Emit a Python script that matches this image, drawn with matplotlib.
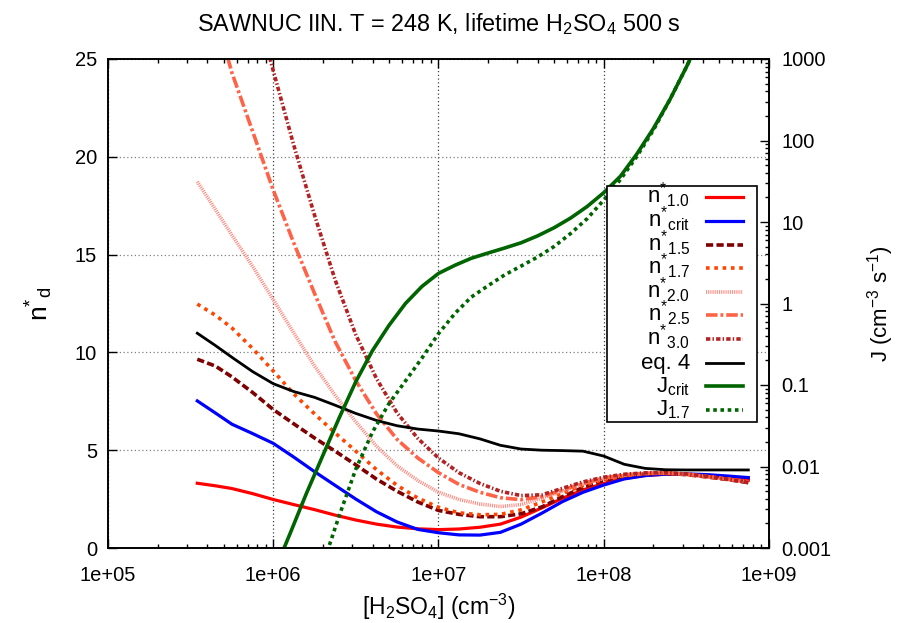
import numpy as np
import matplotlib
matplotlib.use('Agg')
import matplotlib.pyplot as plt
from matplotlib.ticker import LogLocator, FixedLocator, FixedFormatter, NullFormatter
from matplotlib.patches import Rectangle

plt.rcParams['font.family'] = ['Liberation Sans', 'DejaVu Sans']
plt.rcParams['mathtext.fontset'] = 'custom'
plt.rcParams['mathtext.rm'] = 'Liberation Sans'
plt.rcParams['mathtext.it'] = 'Liberation Sans:italic'
plt.rcParams['mathtext.default'] = 'regular'

# H2SO4 concentration grid (cm^-3) for the n* curves
conc = [3.47e5, 4.47e5, 5.62e5, 7.5e5, 1.0e6, 1.33e6, 1.78e6, 2.37e6, 3.16e6, 4.22e6,
        5.62e6, 7.5e6, 1.0e7, 1.33e7, 1.78e7, 2.37e7, 3.16e7, 4.22e7, 5.62e7, 7.5e7,
        1.0e8, 1.33e8, 1.78e8, 2.37e8, 3.16e8, 4.22e8, 5.62e8, 7.5e8]

n_10 = [3.31, 3.18, 3.04, 2.78, 2.48, 2.22, 1.96, 1.68, 1.43, 1.22,
        1.07, 0.98, 0.94, 0.97, 1.06, 1.22, 1.58, 2.05, 2.54, 2.97,
        3.30, 3.56, 3.71, 3.77, 3.76, 3.70, 3.60, 3.47]
n_crit = [7.52, 6.90, 6.33, 5.85, 5.35, 4.65, 3.90, 3.20, 2.50, 1.85,
          1.33, 0.95, 0.78, 0.67, 0.66, 0.80, 1.22, 1.78, 2.37, 2.85,
          3.22, 3.53, 3.70, 3.78, 3.79, 3.75, 3.68, 3.60]
n_15 = [9.65, 9.30, 8.75, 7.95, 7.08, 6.35, 5.62, 4.95, 4.25, 3.52,
        2.90, 2.35, 1.92, 1.72, 1.60, 1.60, 1.75, 2.10, 2.62, 3.10,
        3.46, 3.68, 3.79, 3.82, 3.75, 3.63, 3.50, 3.34]
n_17 = [12.47, 11.90, 11.25, 10.20, 9.05, 7.88, 6.85, 5.88, 4.95, 4.00,
        3.20, 2.55, 2.08, 1.80, 1.70, 1.72, 1.95, 2.35, 2.80, 3.20,
        3.50, 3.70, 3.80, 3.83, 3.77, 3.65, 3.52, 3.38]
n_20 = [18.73, 17.30, 16.00, 14.40, 12.70, 11.00, 9.30, 7.80, 6.45, 5.20,
        4.20, 3.45, 2.85, 2.48, 2.25, 2.12, 2.22, 2.55, 2.90, 3.28,
        3.55, 3.72, 3.81, 3.83, 3.77, 3.65, 3.52, 3.38]
n_25 = [30.5, 27.3, 24.3, 21.3, 18.3, 15.6, 13.0, 10.55, 8.55, 6.85,
        5.55, 4.60, 3.85, 3.25, 2.85, 2.57, 2.47, 2.62, 2.97, 3.30,
        3.58, 3.74, 3.82, 3.84, 3.78, 3.65, 3.52, 3.38]
n_30 = [40.0, 36.0, 32.3, 28.3, 24.4, 20.6, 17.0, 13.7, 10.9, 8.65,
        6.90, 5.60, 4.60, 3.85, 3.30, 2.90, 2.68, 2.72, 3.05, 3.38,
        3.62, 3.77, 3.84, 3.85, 3.79, 3.66, 3.52, 3.35]
n_eq4 = [10.98, 10.35, 9.75, 9.02, 8.40, 8.00, 7.70, 7.30, 6.88, 6.52,
         6.25, 6.08, 5.98, 5.84, 5.58, 5.25, 5.06, 5.00, 4.98, 4.95,
         4.70, 4.28, 4.07, 4.00, 3.99, 3.99, 3.99, 3.99]

# nucleation rates (cm^-3 s^-1)
conc_j = [1.0e6, 1.26e6, 1.58e6, 2.0e6, 2.51e6, 3.16e6, 3.98e6, 5.01e6, 6.31e6, 7.94e6,
          1.0e7, 1.26e7, 1.58e7, 2.0e7, 2.51e7, 3.16e7, 3.98e7, 5.01e7, 6.31e7, 7.94e7,
          1.0e8, 1.26e8, 1.58e8, 2.0e8, 2.51e8, 3.16e8, 3.98e8, 5.01e8]
j_crit = [4.8e-4, 1.48e-3, 4.57e-3, 1.38e-2, 3.98e-2, 0.110, 0.263, 0.537, 1.0, 1.62,
          2.34, 2.95, 3.59, 4.17, 4.79, 5.56, 6.76, 8.51, 11.2, 15.5,
          22.9, 36.3, 67.6, 141.0, 316.0, 794.0, 2140.0, 5620.0]
j_17 = [1.58e-4, 6.3e-4, 2.51e-3, 9.3e-3, 2.63e-2, 5.89e-2, 0.112, 0.214,
        0.427, 0.759, 1.20, 1.66, 2.24, 2.88, 3.72, 5.01, 7.24, 11.0,
        18.6, 33.1, 63.1, 135.0, 316.0, 794.0, 2140.0, 5620.0]

styles = {
    'n10': dict(color='#ff0000', lw=2.3),
    'ncrit': dict(color='#0000ff', lw=2.3),
    'n15': dict(color='#7f0000', lw=2.6, dashes=(2.0, 0.9)),
    'n17': dict(color='#ff4500', lw=2.6, dashes=(1.0, 1.3)),
    'n20': dict(color='#ff8a80', lw=2.6, dashes=(0.3, 0.3)),
    'n25': dict(color='#ff6347', lw=2.6, dashes=(3.2, 0.8, 0.8, 0.8)),
    'n30': dict(color='#b22222', lw=2.6, dashes=(1.2, 0.6, 0.4, 0.6)),
    'eq4': dict(color='black', lw=2.0),
    'jcrit': dict(color='#006400', lw=2.6),
    'j17': dict(color='#006400', lw=2.6, dashes=(1.0, 1.0)),
}

fig = plt.figure(figsize=(9.12, 6.23), dpi=100)
ax = fig.add_axes([108/912, 1-548/623, 661/912, 489/623])
ax2 = ax.twinx()

ax.plot(conc, n_10, **styles['n10'])
ax.plot(conc, n_crit, **styles['ncrit'])
ax.plot(conc, n_15, **styles['n15'])
ax.plot(conc, n_17, **styles['n17'])
ax.plot(conc, n_20, **styles['n20'])
ax.plot(conc, n_25, **styles['n25'])
ax.plot(conc, n_30, **styles['n30'])
ax.plot(conc, n_eq4, **styles['eq4'])

ax2.plot(conc_j, j_crit, **styles['jcrit'])
ax2.plot(conc_j[2:], j_17, **styles['j17'])

ax.set_xscale('log')
ax.set_xlim(1e5, 1e9)
ax.set_ylim(0, 25)
ax2.set_yscale('log')
ax2.set_ylim(1e-3, 1e3)

ax.set_xticks([1e5, 1e6, 1e7, 1e8, 1e9])
ax.set_xticklabels(['1e+05', '1e+06', '1e+07', '1e+08', '1e+09'])
ax.xaxis.set_minor_locator(LogLocator(base=10, subs=np.arange(2, 10)))
ax.xaxis.set_minor_formatter(NullFormatter())
ax.set_yticks([0, 5, 10, 15, 20, 25])

ax2.yaxis.set_major_locator(FixedLocator([1e-3, 1e-2, 1e-1, 1, 10, 100, 1000]))
ax2.yaxis.set_major_formatter(FixedFormatter(['0.001', '0.01', '0.1', '1', '10', '100', '1000']))
ax2.yaxis.set_minor_locator(LogLocator(base=10, subs=np.arange(2, 10)))
ax2.yaxis.set_minor_formatter(NullFormatter())

fs = 14.5
ax.tick_params(which='both', direction='in', top=True, right=False, width=1.0, labelsize=fs)
ax.tick_params(which='major', length=6.5)
ax.tick_params(which='minor', length=3.2)
ax.tick_params(axis='x', pad=13)
ax.tick_params(axis='y', pad=8)
ax2.tick_params(which='both', direction='in', width=1.0, labelsize=fs, pad=9)
ax2.tick_params(which='major', length=6.5)
ax2.tick_params(which='minor', length=3.2)

ax.grid(True, axis='x', which='major', linestyle=(0, (1, 2)), color='#404040', lw=0.9)
ax.grid(True, axis='y', which='major', linestyle=(0, (1, 2)), color='#808080', lw=0.9)

for a in (ax, ax2):
    for s in a.spines.values():
        s.set_linewidth(1.2)

ax.set_xlabel(r'[H$_2$SO$_4$] (cm$^{-3}$)', fontsize=16.5, labelpad=5)
ax.set_ylabel(r'n$^{*}$$_d$', fontsize=19, labelpad=14)
ax2.set_ylabel(r'J (cm$^{-3}$ s$^{-1}$)', fontsize=16, labelpad=24)
ax.set_title(r'SAWNUC IIN. T = 248 K, lifetime H$_2$SO$_4$ 500 s', fontsize=16.8, pad=20)

# key box with right-justified labels and samples on the right
keys = ['n10', 'ncrit', 'n15', 'n17', 'n20', 'n25', 'n30', 'eq4', 'jcrit', 'j17']
labels = [r'n$^{*}$$_{1.0}$', r'n$^{*}$$_{crit}$', r'n$^{*}$$_{1.5}$', r'n$^{*}$$_{1.7}$',
          r'n$^{*}$$_{2.0}$', r'n$^{*}$$_{2.5}$', r'n$^{*}$$_{3.0}$', 'eq. 4',
          r'J$_{crit}$', r'J$_{1.7}$']

px = lambda x: (x - 108) / 661
py = lambda y: (548 - y) / 489
ax2.add_patch(Rectangle((px(607), py(422)), px(757) - px(607), py(186) - py(422),
                        transform=ax2.transAxes, facecolor='white', edgecolor='black',
                        lw=1.2, zorder=5, clip_on=False))
for i, (k, lab) in enumerate(zip(keys, labels)):
    yrow = 197.3 + i * 23.6
    ax2.text(px(690), py(yrow + 6), lab, transform=ax2.transAxes, ha='right',
             va='baseline', fontsize=16, zorder=6)
    ax2.plot([px(706), px(743)], [py(yrow), py(yrow)], transform=ax2.transAxes,
             zorder=6, clip_on=False, **styles[k])

fig.savefig('out.png', dpi=100)
